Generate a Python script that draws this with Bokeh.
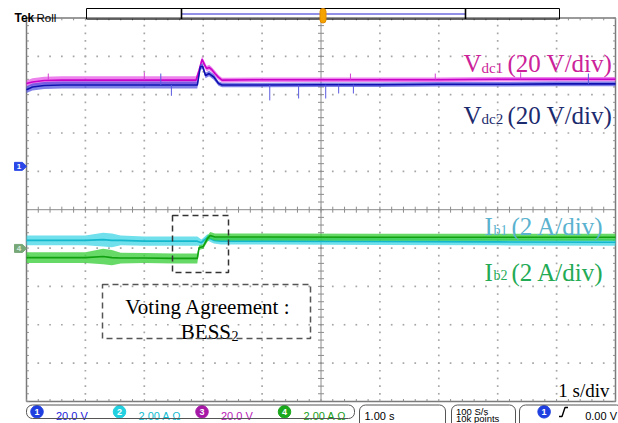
import numpy as np
from bokeh.plotting import figure
from bokeh.models import Range1d, BoxAnnotation
from bokeh.core.properties import value
from bokeh.embed import file_html
from bokeh.resources import INLINE

# ---------------- data (time in s, 1 s/div; amplitude in screen divisions) -------------
vdc1_t = [0.0, 0.1, 0.3, 0.6, 1.0, 2.0, 2.88, 2.93, 2.98, 3.02, 3.06, 3.10, 3.14, 3.20, 3.26, 3.32, 4.0, 5.0, 6.0, 7.0, 8.0, 9.0, 10.0]
vdc1_y = [3.29, 3.33, 3.37, 3.38, 3.38, 3.38, 3.38, 3.63, 3.92, 3.79, 3.68, 3.71, 3.66, 3.55, 3.45, 3.38, 3.39, 3.39, 3.39, 3.39, 3.40, 3.40, 3.40]
vdc1_hw = [0.08, 0.10, 0.10, 0.10, 0.10, 0.10, 0.10, 0.08, 0.08, 0.08, 0.07, 0.07, 0.07, 0.07, 0.06, 0.06, 0.06, 0.06, 0.06, 0.06, 0.06, 0.06, 0.06]

vdc2_t = [0.0, 0.1, 0.3, 0.6, 1.0, 2.0, 2.90, 2.95, 2.99, 3.04, 3.10, 3.18, 3.26, 3.32, 4.0, 5.0, 6.0, 7.0, 8.0, 9.0, 10.0]
vdc2_y = [3.13, 3.20, 3.24, 3.25, 3.25, 3.25, 3.25, 3.72, 3.74, 3.50, 3.55, 3.46, 3.29, 3.25, 3.25, 3.26, 3.26, 3.27, 3.27, 3.28, 3.28]
vdc2_hw = [0.09, 0.09, 0.09, 0.09, 0.09, 0.09, 0.09, 0.07, 0.07, 0.07, 0.07, 0.07, 0.06, 0.06, 0.06, 0.06, 0.06, 0.06, 0.06, 0.06, 0.06]

ib1_t = [0.0, 0.5, 1.0, 1.3, 1.45, 1.6, 2.0, 2.5, 2.90, 2.97, 3.07, 3.18, 3.3, 4.0, 6.0, 8.0, 10.0]
ib1_y = [-0.80, -0.80, -0.80, -0.78, -0.80, -0.80, -0.82, -0.82, -0.82, -0.86, -0.72, -0.80, -0.82, -0.82, -0.83, -0.84, -0.85]
ib1_hw = [0.13, 0.13, 0.13, 0.18, 0.18, 0.13, 0.12, 0.12, 0.12, 0.08, 0.08, 0.08, 0.09, 0.09, 0.09, 0.09, 0.09]

ib2_t = [0.0, 0.5, 1.0, 1.3, 1.45, 1.6, 2.0, 2.5, 2.90, 2.93, 3.00, 3.07, 3.12, 3.2, 4.0, 6.0, 8.0, 10.0]
ib2_y = [-1.25, -1.25, -1.25, -1.22, -1.25, -1.26, -1.26, -1.27, -1.27, -0.99, -0.96, -0.76, -0.67, -0.71, -0.71, -0.72, -0.72, -0.72]
ib2_hw = [0.14, 0.14, 0.14, 0.20, 0.20, 0.14, 0.13, 0.13, 0.13, 0.06, 0.06, 0.08, 0.09, 0.09, 0.09, 0.09, 0.09, 0.09]

# isolated glitches
vdc2_spike_t = [2.46, 4.13, 4.62, 5.08, 5.30, 5.55, 2.28, 9.54]
vdc2_spike_base = [3.25, 3.25, 3.25, 3.26, 3.26, 3.26, 3.25, 3.28]
vdc2_spike_tip = [2.97, 2.85, 2.90, 2.90, 3.03, 3.03, 3.55, 3.55]
vdc1_spike_t = [0.37, 2.00, 5.50, 6.94, 8.39]
vdc1_spike_base = [3.38, 3.38, 3.39, 3.39, 3.40]
vdc1_spike_tip = [3.55, 3.58, 3.55, 3.55, 3.58]

ch1_ground = 1.13
ch4_ground = -1.01

# ---------------- layout (reference screen pixels -> data units) ----------------
W, H = 618, 423
GX0, GX1 = 26.0, 615.0
GY_C = 209.2
DX = (GX1 - GX0) / 10.0
DY = 38.35

def tx(px):
    return (px - GX0) / DX

def ty(py):
    return (GY_C - py) / DY

p = figure(width=W, height=H, x_range=Range1d(tx(0), tx(W)),
           y_range=Range1d(ty(H), ty(0)), output_backend="svg",
           toolbar_location=None, x_axis_location=None, y_axis_location=None,
           min_border=0)
p.grid.visible = False
p.outline_line_color = None
p.background_fill_color = "white"
p.border_fill_color = "white"

GRID = "#8c8c8c"
DOT = "#a6a6a6"

def box(l, r, t, b, color, width=1.0, dash="solid", fill=None, radius=0):
    p.add_layout(BoxAnnotation(left=tx(l), right=tx(r), top=ty(t), bottom=ty(b),
                               fill_color=fill, fill_alpha=1 if fill else 0,
                               line_color=color, line_alpha=1, line_width=width,
                               line_dash=dash, border_radius=radius))

# dotted graticule
xs_minor = np.round(np.arange(0, 10.0001, 0.2), 3)
ys_minor = np.round(np.arange(-5, 5.0001, 0.2), 3)
dx, dy = [], []
for k in range(-4, 5):
    if k == 0:
        continue
    for x in xs_minor[1:-1]:
        dx.append(x); dy.append(k)
for k in range(1, 10):
    if k == 5:
        continue
    for y in ys_minor[1:-1]:
        dx.append(k); dy.append(y)
p.scatter(dx, dy, marker="square", size=1.7, fill_color=DOT, line_color=None)

# center cross
p.line([0, 10], [0, 0], line_color=GRID, line_width=1)
p.line([5, 5], [-5, 5], line_color=GRID, line_width=1)
tlx = 3.0 / DX
tly = 3.0 / DY
p.segment(x0=list(xs_minor), y0=[-tly] * len(xs_minor), x1=list(xs_minor), y1=[tly] * len(xs_minor),
          line_color=GRID, line_width=1)
p.segment(x0=[5 - tlx] * len(ys_minor), y0=list(ys_minor), x1=[5 + tlx] * len(ys_minor), y1=list(ys_minor),
          line_color=GRID, line_width=1)

# border with inward ticks
p.line([0, 10, 10, 0, 0], [-5, -5, 5, 5, -5], line_color="#7a7a7a", line_width=1.5)
p.segment(x0=[0] * len(ys_minor), y0=list(ys_minor), x1=[tlx * 0.8] * len(ys_minor), y1=list(ys_minor),
          line_color=GRID, line_width=1)
p.segment(x0=[10] * len(ys_minor), y0=list(ys_minor), x1=[10 - tlx * 0.8] * len(ys_minor), y1=list(ys_minor),
          line_color=GRID, line_width=1)
p.segment(x0=list(xs_minor), y0=[5] * len(xs_minor), x1=list(xs_minor), y1=[5 - tly * 0.8] * len(xs_minor),
          line_color=GRID, line_width=1)
p.segment(x0=list(xs_minor), y0=[-5] * len(xs_minor), x1=list(xs_minor), y1=[-5 + tly * 0.8] * len(xs_minor),
          line_color=GRID, line_width=1)

# ---------------- traces ----------------
def trace(t, y, hw, band, core, alpha):
    lo = [a - b for a, b in zip(y, hw)]
    hi = [a + b for a, b in zip(y, hw)]
    p.varea(x=t, y1=lo, y2=hi, fill_color=band, fill_alpha=alpha)
    p.line(t, y, line_color=core, line_width=1.6)

trace(ib1_t, ib1_y, ib1_hw, "#3fd6e6", "#14b8cc", 0.75)
trace(ib2_t, ib2_y, ib2_hw, "#33cc33", "#10a010", 0.75)
trace(vdc1_t, vdc1_y, vdc1_hw, "#e64de6", "#c800c8", 0.7)
p.segment(x0=vdc1_spike_t, y0=vdc1_spike_base, x1=vdc1_spike_t, y1=vdc1_spike_tip,
          line_color="#d040d0", line_width=1)
trace(vdc2_t, vdc2_y, vdc2_hw, "#4a4ae0", "#1010b0", 0.7)
p.segment(x0=vdc2_spike_t, y0=vdc2_spike_base, x1=vdc2_spike_t, y1=vdc2_spike_tip,
          line_color="#5a5ae0", line_width=1)

# ---------------- channel ground markers ----------------
def marker(yd, color, label, tcolor):
    xs = [tx(14), tx(22), tx(26), tx(22), tx(14)]
    h = 4.0 / DY
    ys = [yd + h, yd + h, yd, yd - h, yd - h]
    p.patch(xs, ys, fill_color=color, line_color=color)
    p.text(x=[tx(18.5)], y=[yd], text=[label], text_font=value("Liberation Sans"),
           text_font_size="8px", text_color=tcolor, text_align="center",
           text_baseline="middle", text_font_style="bold")

marker(ch1_ground, "#2a48e8", "1", "white")
marker(ch4_ground, "#78a878", "4", "#d8ead8")

# ---------------- text helper ----------------
def txt(xpx, ypx, s, size, color, font="Liberation Serif", align="left",
        baseline="alphabetic", bold=False):
    p.text(x=[tx(xpx)], y=[ty(ypx)], text=[s], text_font=value(font),
           text_font_size=f"{size}px", text_color=color, text_align=align,
           text_baseline=baseline, text_font_style="bold" if bold else "normal")

# signal labels
C1, C2, C3, C4 = "#cc2299", "#1c2a6e", "#5ab2cf", "#22aa55"
txt(463, 62.7, "V", 25, C1)
txt(481, 67.0, "dc1", 15, C1)
txt(507, 62.7, "(20 V/div)", 25, C1)
txt(463, 115.0, "V", 25, C2)
txt(481, 118.5, "dc2", 15, C2)
txt(507, 115.0, "(20 V/div)", 25, C2)
txt(484, 226.0, "I", 25, C3)
txt(493, 229.5, "b1", 14, C3)
txt(511, 226.0, "(2 A/div)", 25, C3)
txt(484, 271.7, "I", 25, C4)
txt(493, 275.0, "b2", 14, C4)
txt(511, 271.7, "(2 A/div)", 25, C4)
txt(609, 390.0, "1 s/div", 19, "black", align="right")

# annotation boxes
box(172, 228, 215, 272, "#333333", 1.5, "6 4")
box(102, 310, 284, 338, "#555555", 1.5, "6 4")
txt(207.5, 306.7, "Voting Agreement :", 21, "black", align="center")
txt(230.5, 331.7, "BESS", 21, "black", align="right")
txt(231.0, 335.5, "2", 14, "black")

# ---------------- top status bar ----------------
txt(14, 17, "Tek", 12, "black", font="Liberation Sans", bold=True)
txt(36, 17, "Roll", 11.5, "black", font="Liberation Sans")
box(86, 559, 8, 18.6, "black", 1)
p.line([tx(181), tx(465)], [ty(13.5), ty(13.5)], line_color="#6c6ce0", line_width=1.3)
p.segment(x0=[tx(181), tx(465)], y0=[ty(8)] * 2, x1=[tx(181), tx(465)], y1=[ty(18.6)] * 2,
          line_color="black", line_width=1.6)
box(319.5, 325.5, 8, 22.5, "#e08a00", 1, fill="#f5a300", radius=3)

# ---------------- bottom status bar ----------------
for l, r, b in [(26, 354, 418), (359, 445, 432), (451, 515, 432), (519, 622, 432)]:
    box(l, r, 404.5, b, "#555555", 1, radius=6)

def chan(xc, num, ccol, label, lcol):
    p.scatter([tx(xc)], [ty(411.3)], marker="circle", size=12.5, fill_color=ccol, line_color=ccol)
    txt(xc, 411.5, num, 9, "white", font="Liberation Sans", align="center",
        baseline="middle", bold=True)
    if label:
        txt(xc + 19, 415, label, 11, lcol, font="Liberation Sans")

chan(36.5, "1", "#1f3fe0", "20.0 V", "#2020d8")
chan(119, "2", "#22d0e0", "2.00 A Ω", "#10bcd0")
chan(201.5, "3", "#a618a6", "20.0 V", "#b818b8")
chan(284, "4", "#1ca81c", "2.00 A Ω", "#189c18")
txt(364, 415, "1.00 s", 11, "black", font="Liberation Sans")
txt(455.5, 410.5, "100 S/s", 9.5, "black", font="Liberation Sans")
txt(455.5, 417.5, "10k points", 9.5, "black", font="Liberation Sans")
chan(543.6, "1", "#1f3fe0", "", "")
p.line([tx(558.5), tx(561.5), tx(564.5), tx(567.5)], [ty(416), ty(416), ty(407), ty(407)],
       line_color="black", line_width=1.4)
txt(616.5, 415, "0.00 V", 11, "black", font="Liberation Sans", align="right")

open("out.html", "w").write(file_html(p, INLINE))
